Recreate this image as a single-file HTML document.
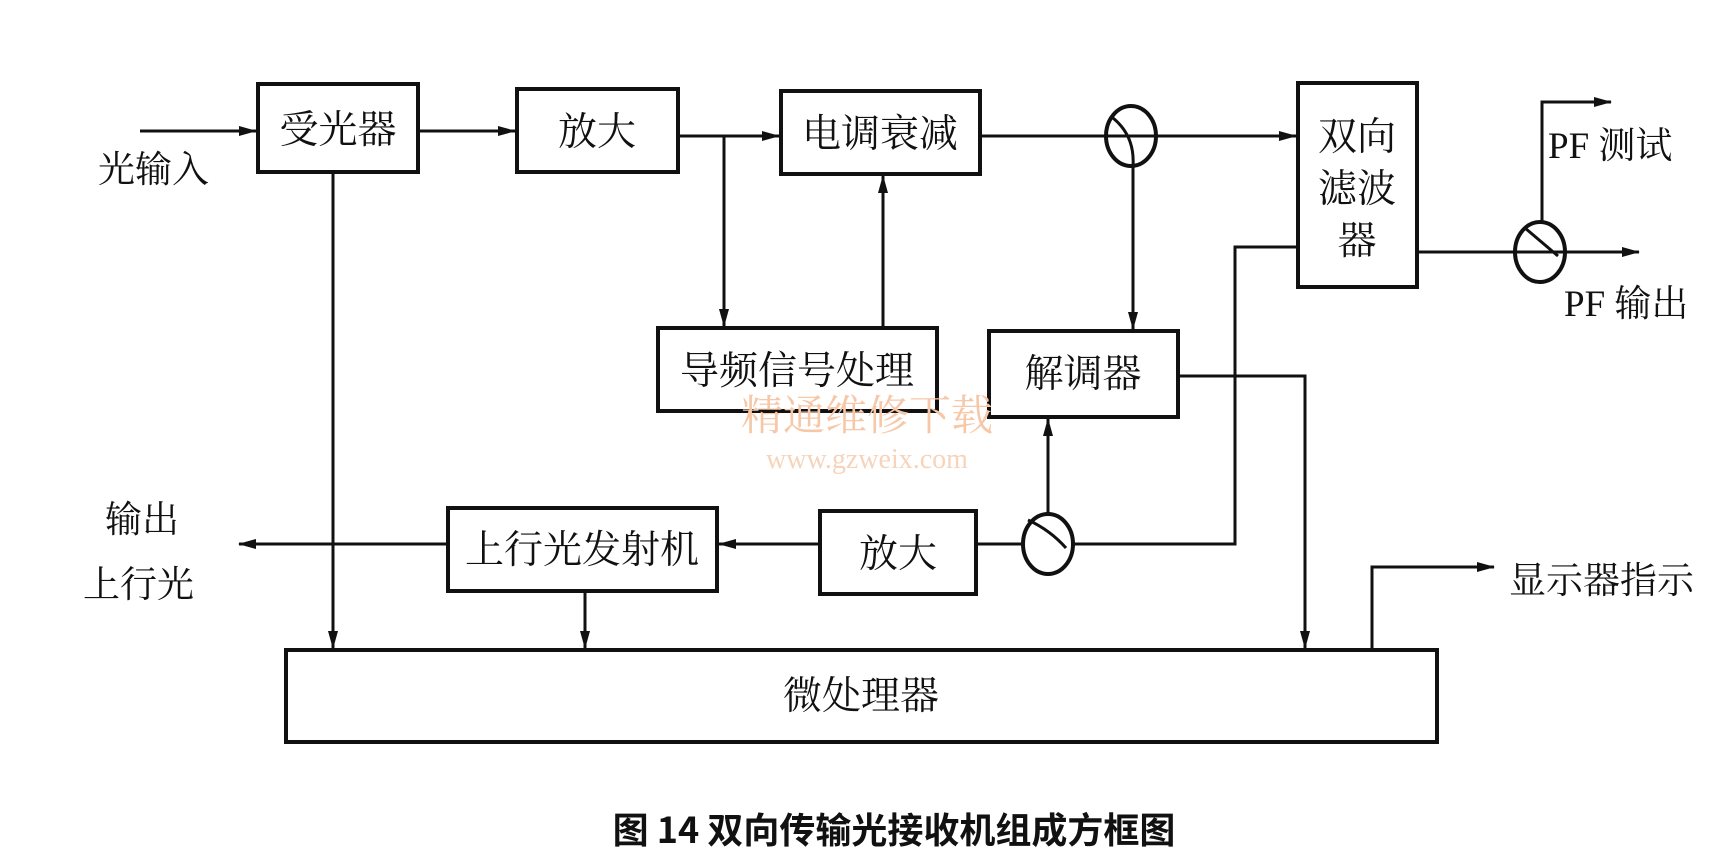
<!DOCTYPE html>
<html><head><meta charset="utf-8"><style>
html,body{margin:0;padding:0;background:#fff;}
svg{display:block;}
text{font-family:"Liberation Serif","Noto Serif CJK SC","Noto Sans CJK SC",serif;fill:#111;}
</style></head><body>
<svg width="1733" height="864" viewBox="0 0 1733 864" xmlns="http://www.w3.org/2000/svg">
<defs><marker id="a" markerWidth="18" markerHeight="10" refX="17" refY="5" orient="auto" markerUnits="userSpaceOnUse"><path d="M0,0 L18,5 L0,10 z" fill="#111"/></marker></defs>
<g fill="none" stroke="#111" stroke-width="4">
<rect x="258" y="84" width="160" height="88"/>
<rect x="517" y="89" width="161" height="83"/>
<rect x="781" y="91" width="199" height="83"/>
<rect x="1298" y="83" width="119" height="204"/>
<rect x="658" y="328" width="279" height="83"/>
<rect x="989" y="331" width="189" height="86"/>
<rect x="448" y="508" width="269" height="83"/>
<rect x="820" y="511" width="156" height="83"/>
<rect x="286" y="650" width="1151" height="92"/>
<ellipse cx="1131" cy="136" rx="25" ry="30"/>
<ellipse cx="1540" cy="252" rx="25" ry="30"/>
<ellipse cx="1048" cy="544" rx="25" ry="30"/>
</g>
<g fill="none" stroke="#111" stroke-width="3">
<path d="M1113,118 Q1135,136 1133,166"/>
<path d="M1525,228 Q1545,245 1558,256"/>
<path d="M1028,520 Q1050,530 1066,548"/>
</g>
<g fill="none" stroke="#111" stroke-width="3" marker-end="url(#a)">
<path d="M140,131 H256"/>
<path d="M418,131 H515"/>
<path d="M678,136 H779"/>
<path d="M980,136 H1296"/>
<path d="M333,172 V648"/>
<path d="M724,136 V326"/>
<path d="M883,328 V176"/>
<path d="M1133,166 V329"/>
<path d="M1417,252 H1639"/>
<path d="M1542,222 V102 H1611"/>
<path d="M1178,376 H1305 V648"/>
<path d="M1372,650 V567 H1494"/>
<path d="M1048,514 V419"/>
<path d="M820,544 H719"/>
<path d="M448,544 H239"/>
<path d="M585,591 V648"/>
</g>
<g fill="none" stroke="#111" stroke-width="3">
<path d="M1298,247 H1235 V544 H1073"/>
<path d="M976,544 H1023"/>
</g>
<g font-size="39" text-anchor="middle">
<text x="338" y="143">受光器</text>
<text x="597" y="145">放大</text>
<text x="880" y="147">电调衰减</text>
<text x="1357" y="150">双向</text>
<text x="1357" y="202">滤波</text>
<text x="1357" y="254">器</text>
<text x="797" y="384">导频信号处理</text>
<text x="1083" y="387">解调器</text>
<text x="582" y="563">上行光发射机</text>
<text x="898" y="567">放大</text>
<text x="861" y="709">微处理器</text>
</g>
<g font-size="37">
<text x="98" y="182">光输入</text>
<text x="105" y="532">输出</text>
<text x="83" y="597">上行光</text>
<text x="1548" y="158">PF 测试</text>
<text x="1564" y="316">PF 输出</text>
<text x="1509" y="593">显示器指示</text>
</g>
<text x="867" y="430" font-size="42" text-anchor="middle" style="fill:#f6c8a8">精通维修下载</text>
<text x="867" y="468" font-size="28" text-anchor="middle" style="fill:#f6d4bc">www.gzweix.com</text>
<text x="894" y="843" font-size="36" font-weight="bold" text-anchor="middle" style="font-family:'Noto Sans CJK SC','Liberation Sans',sans-serif">图 14 双向传输光接收机组成方框图</text>
</svg>
</body></html>
